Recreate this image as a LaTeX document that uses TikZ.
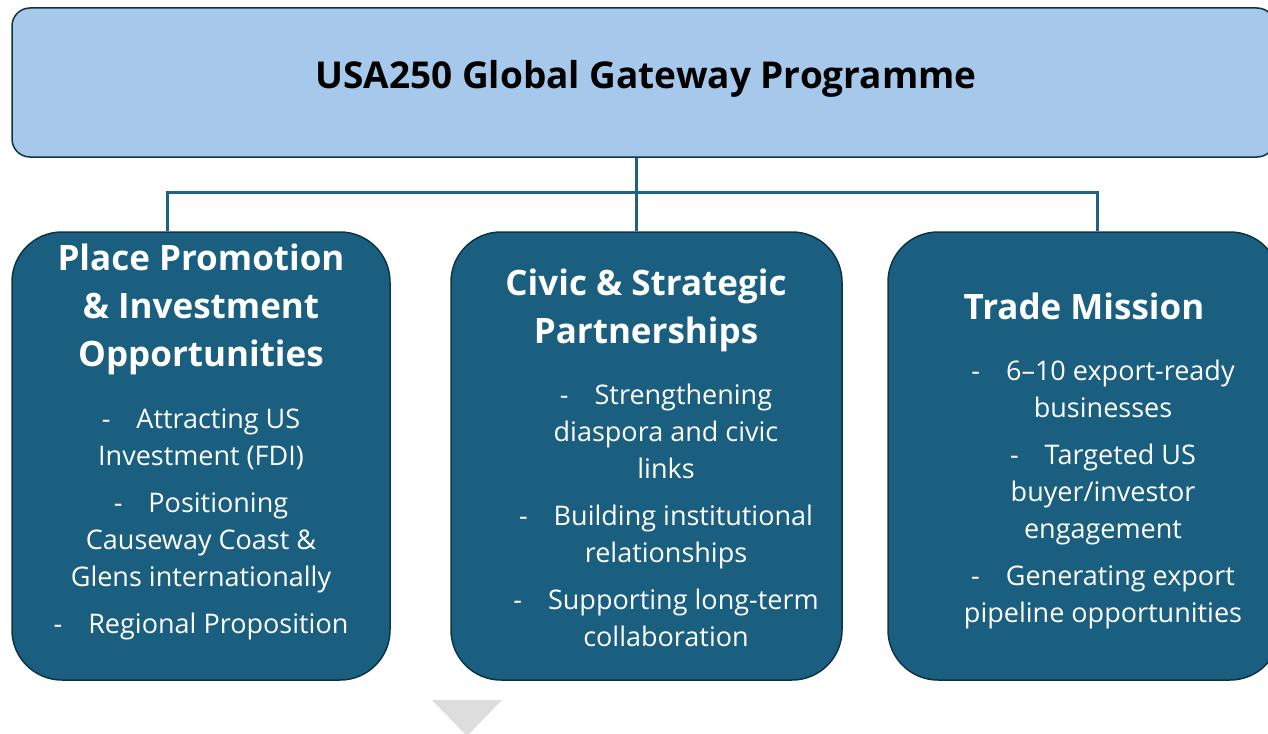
\documentclass[tikz,border=0pt]{standalone}
\usepackage{fontspec}
\setmainfont{Open Sans}
\usepackage{xcolor}
\usetikzlibrary{positioning}

\definecolor{progblue}{HTML}{A6C9EB}
\definecolor{pillarteal}{HTML}{1A5F80}
\definecolor{edgedark}{HTML}{0D3447}
\definecolor{linkteal}{HTML}{1F6182}
\definecolor{arrowgrey}{HTML}{DDDDDD}

\begin{document}
\begin{tikzpicture}[x=1pt, y=-1pt,
    pillar/.style={rectangle, rounded corners=50pt, draw=edgedark, line width=1.5pt,
        fill=pillarteal, minimum height=448pt, inner sep=0pt},
    heading/.style={text=white, font=\fontsize{35}{48}\selectfont\bfseries,
        align=center, anchor=north, inner sep=0pt},
    points/.style={text=white, font=\fontsize{27}{37}\selectfont,
        align=center, anchor=north, inner sep=0pt},
    link/.style={draw=linkteal, line width=3pt}]
    \useasboundingbox (0,0) rectangle (1268,733);
    \clip (0,0) rectangle (1268,733);

    % programme banner
    \node[rectangle, rounded corners=18pt, draw=edgedark, line width=1.5pt, fill=progblue,
        minimum width=1263pt, minimum height=149pt, inner sep=0pt] (prog) at (643.5,82.5) {};
    \node[font=\fontsize{37}{44}\selectfont\bfseries] (progtitle) at (646,79) {USA250 Global Gateway Programme};

    % three pillars
    \node[pillar, minimum width=378pt] (place) at (201,456) {};
    \node[pillar, minimum width=391pt] (civic) at (646.5,456) {};
    \node[pillar, minimum width=392pt] (trade) at (1084,456) {};

    \newcommand{\dash}{-\hspace{26pt}}

    \node[heading] (placehead) at (201,244) {Place Promotion\\ \& Investment\\ Opportunities};
    \node[points] (placepts) at (201,408) {\dash Attracting US\\ Investment (FDI)\\[10pt]
        \dash Positioning\\ Causeway Coast \&\\ Glens internationally\\[10pt]
        \dash Regional Proposition};

    \node[heading] (civichead) at (646,269) {Civic \& Strategic\\ Partnerships};
    \node[points] (civicpts) at (666,384) {\dash Strengthening\\ diaspora and civic\\ links\\[10pt]
        \dash Building institutional\\ relationships\\[10pt]
        \dash Supporting long-term\\ collaboration};

    \node[heading] (tradehead) at (1084,293) {Trade Mission};
    \node[points] (tradepts) at (1103,360) {\dash 6–10 export-ready\\ businesses\\[10pt]
        \dash Targeted US\\ buyer/investor\\ engagement\\[10pt]
        \dash Generating export\\ pipeline opportunities};

    % connectors
    \coordinate (hub) at (636,192);
    \coordinate (busL) at (167,192);
    \coordinate (busR) at (1097,192);
    \draw[link] (hub |- prog.south) -- (hub |- civic.north);
    \draw[link] (busL |- place.north) -- (busL) -- (busR) -- (busR |- trade.north);

    % arrow towards the next stage
    \fill[arrowgrey] (432,700) -- (502,700) -- (467,736) -- cycle;
\end{tikzpicture}
\end{document}
